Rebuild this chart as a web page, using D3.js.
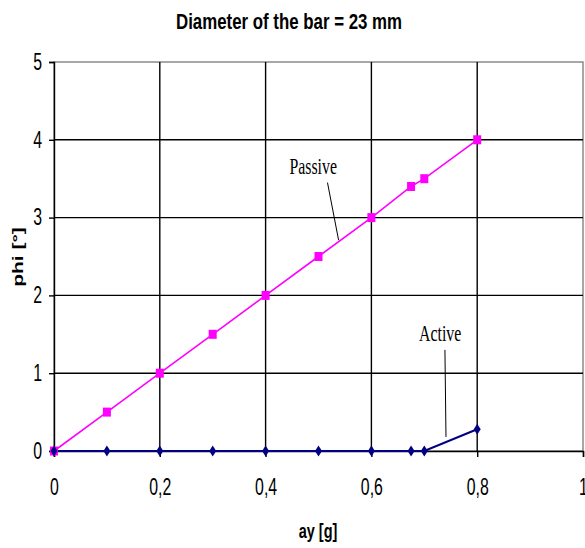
<!DOCTYPE html>
<html><head><meta charset="utf-8">
<script src="https://cdn.jsdelivr.net/npm/d3@7"></script>
<style>body{margin:0;background:#fff}svg{display:block}</style>
</head><body>
<svg id="c" width="585" height="548"></svg>
<script>
const xTicks = [0, 0.2, 0.4, 0.6, 0.8, 1];
const yTicks = [0, 1, 2, 3, 4, 5];
const passiveX = [0, 0.1, 0.2, 0.3, 0.4, 0.5, 0.6, 0.675, 0.7, 0.8];
const passiveY = [0, 0.5, 1.0, 1.5, 2.0, 2.5, 3.0, 3.4, 3.5, 4.0];
const activeX = [0, 0.1, 0.2, 0.3, 0.4, 0.5, 0.6, 0.675, 0.7, 0.8];
const activeY = [0, 0, 0, 0, 0, 0, 0, 0, 0, 0.28];
const titleText = "Diameter of the bar = 23 mm";
const xLabel = "ay [g]";
const yLabel = "phi [°]";

const svg = d3.select("#c");
const L = 54, R = 583, T = 62, B = 451;
const SX = 0.69; // horizontal squeeze of the original picture
const x = d3.scaleLinear().domain([0, 1]).range([L, R]);
const y = d3.scaleLinear().domain([0, 5]).range([B, T]);
const fmt = d => String(d).replace(".", ",");
const sans = "'Liberation Sans', Arial, sans-serif";
const serif = "'Liberation Serif', 'Times New Roman', serif";

// plot border
svg.append("rect").attr("x", L).attr("y", T).attr("width", R - L).attr("height", B - T)
  .attr("fill", "none").attr("stroke", "#8a8a8a").attr("stroke-width", 1.5);

// grid
svg.append("g").selectAll("line").data(yTicks.slice(1, -1)).join("line")
  .attr("x1", L).attr("x2", R).attr("y1", d => y(d)).attr("y2", d => y(d))
  .attr("stroke", "#000").attr("stroke-width", 1.4);
svg.append("g").selectAll("line").data(xTicks.slice(1, -1)).join("line")
  .attr("y1", T).attr("y2", B).attr("x1", d => x(d)).attr("x2", d => x(d))
  .attr("stroke", "#000").attr("stroke-width", 1.4);

// axes
const xAxis = svg.append("g").attr("transform", `translate(0,${B})`)
  .call(d3.axisBottom(x).tickValues(xTicks).tickFormat(fmt).tickSize(6).tickPadding(22));
const yAxis = svg.append("g").attr("transform", `translate(${L},0)`)
  .call(d3.axisLeft(y).tickValues(yTicks).tickFormat(fmt).tickSize(5).tickPadding(7));
[xAxis, yAxis].forEach(a => {
  a.select(".domain").attr("stroke", "#000").attr("stroke-width", 1.4);
  a.selectAll(".tick line").attr("stroke", "#000").attr("stroke-width", 1.4);
  a.selectAll("text").attr("font-family", sans).attr("font-size", 23).attr("fill", "#000");
});
xAxis.selectAll(".tick text").attr("transform", `scale(${SX},1)`);
yAxis.selectAll(".tick text").each(function () {
  const t = d3.select(this);
  const xx = +t.attr("x");
  t.attr("x", 0).attr("transform", `translate(${xx},0) scale(${SX},1)`);
});

// lines
const pData = passiveX.map((v, i) => [v, passiveY[i]]);
const aData = activeX.map((v, i) => [v, activeY[i]]);
const line = d3.line().x(d => x(d[0])).y(d => y(d[1]));
svg.append("path").datum(pData).attr("d", line).attr("fill", "none")
  .attr("stroke", "#ff00ff").attr("stroke-width", 1.6);
svg.append("path").datum(aData).attr("d", line).attr("fill", "none")
  .attr("stroke", "#000080").attr("stroke-width", 2);

// markers
svg.append("g").selectAll("rect").data(pData).join("rect")
  .attr("x", d => x(d[0]) - 4).attr("y", d => y(d[1]) - 4.5)
  .attr("width", 8).attr("height", 9).attr("fill", "#ff00ff");
svg.append("g").selectAll("path").data(aData).join("path")
  .attr("d", d => `M${x(d[0])},${y(d[1]) - 5.5}L${x(d[0]) + 3.5},${y(d[1])}L${x(d[0])},${y(d[1]) + 5.5}L${x(d[0]) - 3.5},${y(d[1])}Z`)
  .attr("fill", "#000080");

// annotations
function squeezedText(px, py, txt, family, size, weight) {
  return svg.append("text")
    .attr("transform", `translate(${px},${py}) scale(${SX},1)`)
    .attr("text-anchor", "middle").attr("font-family", family)
    .attr("font-size", size).attr("font-weight", weight || "normal").text(txt);
}
squeezedText(x(0.49), y(3.56), "Passive", serif, 23);
svg.append("line").attr("x1", x(0.517)).attr("y1", y(3.45)).attr("x2", x(0.538)).attr("y2", y(2.71))
  .attr("stroke", "#000").attr("stroke-width", 1);
squeezedText(x(0.73), y(1.41), "Active", serif, 23);
svg.append("line").attr("x1", x(0.739)).attr("y1", y(1.30)).attr("x2", x(0.741)).attr("y2", y(0.18))
  .attr("stroke", "#000").attr("stroke-width", 1);

// titles
svg.append("text").attr("x", 289).attr("y", 29).attr("text-anchor", "middle")
  .attr("font-family", sans).attr("font-weight", "bold").attr("font-size", 22)
  .attr("textLength", 226).attr("lengthAdjust", "spacingAndGlyphs").text(titleText);
squeezedText(318, 538, xLabel, sans, 21, "bold");
svg.append("text").attr("transform", `translate(23,257) scale(${SX},1) rotate(-90)`)
  .attr("text-anchor", "middle").attr("font-family", sans).attr("font-weight", "bold")
  .attr("font-size", 21).text(yLabel);
</script>
</body></html>
